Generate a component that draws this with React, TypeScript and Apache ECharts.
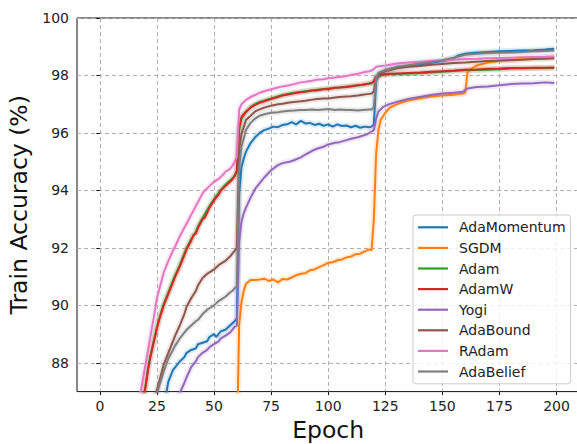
import React, { useEffect, useRef } from 'react';
import * as echarts from 'echarts';

const xTicks = [0, 25, 50, 75, 100, 125, 150, 175, 200];
const yTicks = [88, 90, 92, 94, 96, 98, 100];

const seriesNames = ['AdaMomentum', 'SGDM', 'Adam', 'AdamW', 'Yogi', 'AdaBound', 'RAdam', 'AdaBelief'];
const seriesColors = ['#1f77b4', '#ff7f0e', '#2ca02c', '#d62728', '#9467bd', '#8c564b', '#e377c2', '#7f7f7f'];

const adaMomentum = [[29,86.9],[30,87.35],[32,87.75],[34,87.95],[35,88.05],[37,88.2],[38,88.35],[40,88.45],[42,88.5],[43,88.65],[45,88.7],[47,88.75],[48,88.9],[50,89.0],[51,88.9],[53,89.1],[55,89.15],[57,89.3],[59,89.45],[60,89.55],[61,93.9],[62,94.8],[63,95.1],[64,95.35],[66,95.65],[68,95.85],[70,96.0],[72,96.1],[74,96.15],[76,96.22],[78,96.2],[80,96.28],[82,96.3],[84,96.38],[86,96.3],[88,96.42],[90,96.33],[92,96.35],[94,96.28],[96,96.32],[98,96.25],[100,96.3],[102,96.22],[104,96.3],[106,96.24],[108,96.26],[110,96.2],[112,96.25],[114,96.18],[116,96.22],[118,96.2],[119,96.22],[120,96.3],[121,97.8],[122,98.05],[124,98.15],[126,98.2],[128,98.25],[130,98.28],[135,98.33],[140,98.38],[145,98.44],[150,98.5],[153,98.55],[155,98.6],[157,98.7],[160,98.76],[163,98.78],[166,98.8],[170,98.82],[175,98.84],[180,98.85],[185,98.87],[190,98.88],[195,98.9],[199,98.93]];

const sgdm = [[60,85.0],[61,89.3],[62,90.1],[63,90.5],[64,90.75],[66,90.88],[68,90.88],[70,90.9],[72,90.93],[74,90.85],[76,90.9],[78,90.8],[80,90.92],[82,90.9],[84,90.97],[86,91.05],[88,91.1],[90,91.12],[92,91.22],[94,91.25],[96,91.33],[98,91.4],[100,91.48],[102,91.5],[104,91.57],[106,91.6],[108,91.67],[110,91.7],[112,91.78],[114,91.8],[116,91.88],[118,91.95],[119,91.92],[120,93.0],[121,95.3],[122,96.1],[123,96.45],[125,96.7],[127,96.88],[130,97.0],[133,97.08],[136,97.15],[140,97.2],[145,97.27],[150,97.3],[155,97.33],[159,97.37],[160,97.4],[161,98.1],[162,98.2],[165,98.35],[170,98.45],[175,98.5],[180,98.55],[185,98.58],[190,98.6],[195,98.62],[199,98.64]];

const adam = [[19,86.75],[20,87.2],[21,87.75],[22,88.2],[23,88.55],[24,88.9],[25,89.25],[26,89.55],[27,89.8],[28,90.05],[30,90.45],[32,90.85],[33,91.05],[35,91.4],[37,91.8],[38,92.0],[40,92.3],[42,92.55],[43,92.75],[45,93.05],[48,93.45],[50,93.7],[53,94.02],[55,94.2],[58,94.42],[59,94.5],[60,94.65],[61,96.1],[62,96.5],[64,96.72],[66,96.9],[68,97.0],[70,97.08],[75,97.2],[80,97.32],[85,97.4],[90,97.45],[95,97.5],[100,97.55],[105,97.58],[110,97.63],[115,97.68],[119,97.73],[120,97.78],[121,97.93],[123,98.0],[125,98.03],[130,98.05],[140,98.08],[150,98.13],[160,98.18],[170,98.2],[180,98.24],[190,98.25],[199,98.26]];

const adamW = [[19,86.7],[20,87.15],[21,87.7],[22,88.15],[23,88.5],[24,88.85],[25,89.2],[26,89.5],[27,89.75],[28,90.0],[30,90.4],[32,90.8],[33,91.0],[35,91.35],[37,91.75],[38,91.95],[40,92.25],[41,92.45],[42,92.5],[43,92.7],[45,93.0],[46,93.05],[48,93.4],[50,93.65],[52,93.85],[53,94.0],[55,94.15],[57,94.3],[58,94.38],[59,94.5],[60,94.7],[61,96.2],[62,96.55],[64,96.75],[66,96.88],[68,96.98],[70,97.05],[72,97.1],[75,97.18],[78,97.25],[80,97.3],[83,97.35],[85,97.38],[88,97.42],[90,97.43],[93,97.48],[95,97.48],[98,97.52],[100,97.52],[103,97.57],[105,97.58],[108,97.6],[110,97.62],[113,97.66],[115,97.68],[118,97.72],[119,97.74],[120,97.8],[121,97.95],[123,98.02],[125,98.05],[130,98.07],[135,98.09],[140,98.1],[145,98.13],[150,98.15],[155,98.17],[160,98.2],[165,98.21],[170,98.23],[175,98.24],[180,98.26],[185,98.26],[190,98.27],[195,98.27],[199,98.28]];

const yogi = [[34,86.7],[35,86.95],[37,87.3],[38,87.5],[40,87.85],[42,88.05],[43,88.2],[45,88.35],[47,88.45],[48,88.55],[50,88.65],[52,88.75],[53,88.85],[55,88.95],[57,89.05],[58,89.15],[59,89.25],[60,89.3],[61,92.2],[62,92.9],[63,93.2],[64,93.4],[66,93.75],[68,94.05],[70,94.25],[72,94.45],[75,94.7],[78,94.88],[80,94.95],[83,95.0],[85,95.05],[88,95.15],[90,95.25],[93,95.38],[95,95.45],[98,95.52],[100,95.6],[103,95.66],[105,95.68],[108,95.75],[110,95.8],[113,95.85],[115,95.9],[117,95.95],[119,96.05],[120,96.1],[121,96.5],[122,96.75],[124,96.9],[126,96.98],[130,97.08],[135,97.18],[140,97.25],[145,97.32],[150,97.37],[155,97.4],[159,97.43],[161,97.55],[165,97.6],[170,97.62],[175,97.66],[180,97.7],[185,97.72],[190,97.73],[195,97.76],[199,97.74]];

const adaBound = [[24,86.8],[25,87.05],[27,87.65],[28,87.95],[30,88.35],[32,88.75],[33,88.95],[35,89.3],[37,89.7],[38,89.95],[40,90.25],[42,90.5],[43,90.7],[45,90.95],[47,91.1],[48,91.15],[50,91.25],[52,91.4],[53,91.45],[55,91.55],[57,91.7],[58,91.8],[59,91.9],[60,92.0],[61,95.4],[62,95.95],[64,96.45],[66,96.6],[68,96.75],[70,96.82],[72,96.88],[75,96.95],[78,97.0],[80,97.02],[83,97.06],[85,97.08],[88,97.1],[90,97.12],[93,97.16],[95,97.18],[98,97.2],[100,97.2],[103,97.23],[105,97.25],[108,97.27],[110,97.28],[113,97.3],[115,97.33],[118,97.36],[119,97.37],[120,97.45],[121,97.9],[123,98.05],[125,98.15],[130,98.25],[135,98.3],[140,98.33],[145,98.37],[150,98.4],[155,98.43],[160,98.45],[165,98.48],[170,98.5],[175,98.52],[180,98.53],[185,98.55],[190,98.57],[195,98.58],[199,98.6]];

const rAdam = [[17,86.7],[18,87.05],[19,87.5],[20,87.95],[21,88.4],[22,88.85],[23,89.3],[24,89.75],[25,90.25],[26,90.55],[27,90.85],[28,91.15],[30,91.55],[32,91.9],[33,92.05],[35,92.4],[37,92.7],[39,93.0],[40,93.15],[42,93.45],[44,93.75],[45,93.9],[46,94.0],[48,94.15],[50,94.3],[52,94.4],[54,94.55],[55,94.65],[57,94.75],[58,94.85],[59,95.0],[60,95.15],[61,96.8],[62,97.0],[64,97.15],[66,97.25],[68,97.32],[70,97.4],[72,97.45],[75,97.52],[78,97.58],[80,97.62],[83,97.66],[85,97.7],[88,97.76],[90,97.78],[93,97.82],[95,97.85],[98,97.87],[100,97.9],[103,97.93],[105,97.95],[108,97.98],[110,98.02],[113,98.06],[115,98.1],[118,98.15],[119,98.17],[120,98.22],[121,98.3],[125,98.35],[130,98.42],[135,98.45],[140,98.48],[145,98.5],[150,98.52],[155,98.55],[160,98.57],[165,98.58],[170,98.6],[175,98.61],[180,98.62],[185,98.63],[190,98.64],[195,98.65],[199,98.66]];

const adaBelief = [[25,86.9],[26,87.2],[27,87.45],[28,87.7],[30,88.15],[32,88.45],[33,88.6],[35,88.85],[37,89.05],[38,89.15],[40,89.3],[42,89.45],[43,89.5],[45,89.7],[47,89.85],[48,89.9],[50,90.0],[52,90.15],[53,90.2],[55,90.3],[57,90.45],[58,90.5],[59,90.6],[60,90.65],[61,94.8],[62,95.5],[64,96.1],[66,96.35],[68,96.5],[70,96.6],[72,96.65],[75,96.7],[78,96.72],[80,96.75],[83,96.77],[85,96.78],[88,96.8],[90,96.8],[93,96.82],[95,96.8],[98,96.82],[100,96.83],[103,96.8],[105,96.82],[108,96.8],[110,96.8],[113,96.78],[115,96.8],[118,96.82],[119,96.82],[120,96.9],[121,97.9],[122,98.1],[125,98.18],[130,98.3],[135,98.36],[140,98.42],[145,98.47],[150,98.53],[155,98.62],[160,98.72],[165,98.76],[170,98.78],[175,98.79],[180,98.8],[185,98.82],[190,98.84],[195,98.85],[199,98.87]];

const seriesData = [adaMomentum, sgdm, adam, adamW, yogi, adaBound, rAdam, adaBelief];

const FONT = 'DejaVu Sans';

export default function App() {
  const ref = useRef<HTMLDivElement>(null);
  useEffect(() => {
    if (!ref.current) return;
    const chart = echarts.init(ref.current, null, { renderer: 'svg' });
    const series: any[] = [];
    seriesNames.forEach((name, i) => {
      series.push({
        name: name + ' std',
        type: 'line',
        data: seriesData[i],
        symbol: 'none',
        silent: true,
        color: seriesColors[i],
        lineStyle: { color: seriesColors[i], width: 6, opacity: 0.15 },
        z: 2,
      });
      series.push({
        name,
        type: 'line',
        data: seriesData[i],
        symbol: 'none',
        color: seriesColors[i],
        lineStyle: { color: seriesColors[i], width: 2 },
        z: 3,
      });
    });
    chart.setOption({
      animation: false,
      textStyle: { fontFamily: FONT },
      grid: {
        left: 77, top: 18, right: -2.4, bottom: 52.4,
        show: true, borderColor: '#111', borderWidth: 1,
        containLabel: false, outerBoundsMode: 'none',
      },
      legend: {
        data: seriesNames,
        orient: 'vertical',
        left: 413, top: 215,
        icon: 'rect', itemWidth: 30, itemHeight: 2.2,
        itemGap: 6.6,
        padding: [5.3, 5, 5.3, 5],
        borderColor: '#cccccc', borderWidth: 1, borderRadius: 3,
        backgroundColor: 'rgba(255,255,255,0.8)',
        textStyle: { fontSize: 14, lineHeight: 14, color: '#222', fontFamily: FONT, padding: [0, 0, 0, 6] },
      },
      xAxis: {
        type: 'value', min: -10, max: 210,
        axisLine: { show: false },
        axisTick: { show: true, customValues: xTicks, length: 3.5, lineStyle: { color: '#111' } },
        axisLabel: { customValues: xTicks, fontSize: 14, color: '#222', margin: 7, fontFamily: FONT },
        splitLine: { show: true, lineStyle: { type: [4, 3], color: '#b0b0b0', width: 1 } },
        name: 'Epoch', nameLocation: 'middle', nameGap: 25,
        nameTextStyle: { fontSize: 23.5, color: '#111', fontFamily: FONT },
      },
      yAxis: {
        type: 'value', min: 87, max: 100,
        axisLine: { show: false },
        axisTick: { show: true, customValues: yTicks, length: 3.5, lineStyle: { color: '#111' } },
        axisLabel: { customValues: yTicks, fontSize: 14, color: '#222', margin: 8, fontFamily: FONT },
        splitLine: { show: true, lineStyle: { type: [4, 3], color: '#b0b0b0', width: 1 } },
        name: 'Train Accuracy (%)', nameLocation: 'middle', nameGap: 45,
        nameTextStyle: { fontSize: 23.5, color: '#111', fontFamily: FONT },
      },
      series,
    });
    return () => chart.dispose();
  }, []);
  return <div ref={ref} style={{ position: 'fixed', left: 0, top: 0, width: 577, height: 444, background: '#fff' }} />;
}
